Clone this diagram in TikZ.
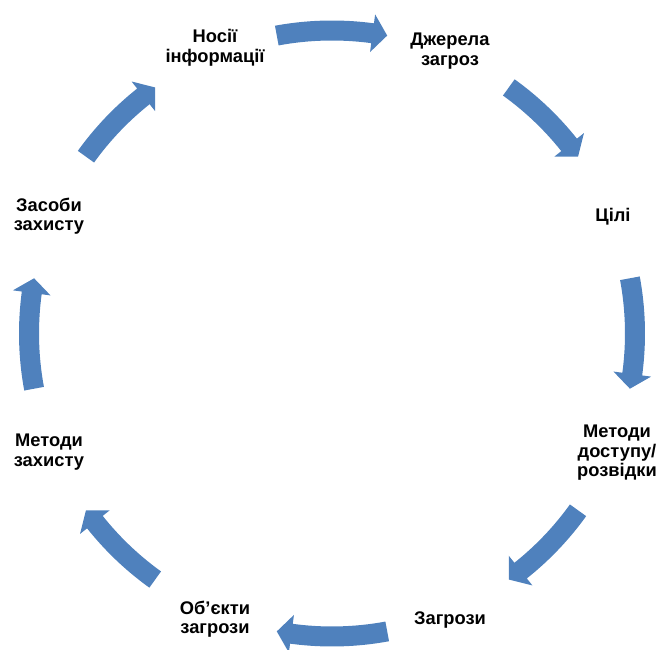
\documentclass[tikz,border=0pt]{standalone}
\usepackage{fontspec}
\setmainfont{Liberation Sans}
\usetikzlibrary{calc}
\definecolor{cycleblue}{RGB}{79,129,189}
\tikzset{
  label/.style={font=\bfseries\fontsize{18.3}{19.5}\selectfont, align=center, inner sep=0pt},
  arrowfill/.style={fill=cycleblue}
}
\begin{document}
\begin{tikzpicture}[x=1pt,y=1pt]
\useasboundingbox (0,0) rectangle (657,650);
\coordinate (C) at (332,316.5);
% ring radius, half shaft width, half head width, head length (deg)
\def\R{303}\def\w{10}\def\h{19}\def\hl{2.8}
% centre angle / half arc span of each curved arrow
\foreach \a/\s in {90/10.5,45/9.3,0/10.5,-45/9.3,-90/10.5,-135/9.3,180/10.5,135/9.3}{
  \pgfmathsetmacro\ta{\a+\s}
  \pgfmathsetmacro\tb{\a-\s+\hl}
  \pgfmathsetmacro\tc{\a-\s}
  \fill[arrowfill]
    ($(C)+(\ta:\R+\w)$) arc[start angle=\ta, end angle=\tb, radius=\R+\w]
    -- ($(C)+(\tb:\R+\h)$) -- ($(C)+(\tc:\R)$) -- ($(C)+(\tb:\R-\h)$)
    -- ($(C)+(\tb:\R-\w)$) arc[start angle=\tb, end angle=\ta, radius=\R-\w]
    -- cycle;
}
\node[label] (carriers) at (215,602) {Носії\\інформації};
\node[label] (sources) at (450,599) {Джерела\\загроз};
\node[label] (goals) at (613,433) {Цілі};
\node[label] (access) at (617,197) {Методи\\доступу/\\розвідки};
\node[label] (threats) at (450,30) {Загрози};
\node[label] (objects) at (215,31) {Об’єкти\\загрози};
\node[label] (protmethods) at (49,198) {Методи\\захисту};
\node[label] (protmeans) at (49,434) {Засоби\\захисту};
\end{tikzpicture}
\end{document}
